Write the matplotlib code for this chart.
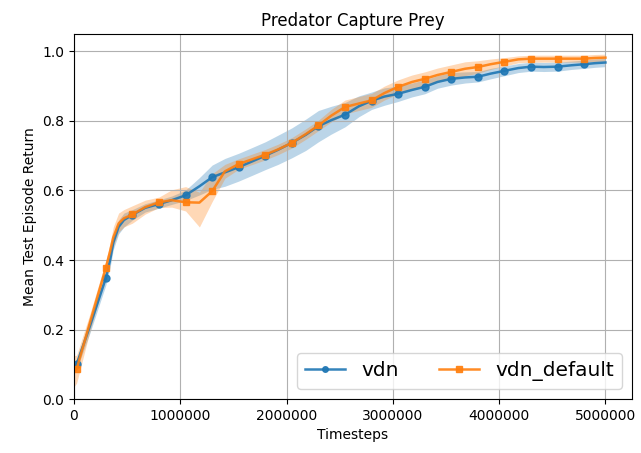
import numpy as np
import matplotlib
matplotlib.use('Agg')
import matplotlib.pyplot as plt

steps = [0.0, 0.025, 0.15, 0.30, 0.34, 0.37, 0.42, 0.47, 0.55, 0.67, 0.80, 0.92, 1.05, 1.18,
         1.30, 1.42, 1.55, 1.68, 1.80, 1.92, 2.05, 2.18, 2.30, 2.42, 2.55, 2.68,
         2.80, 2.92, 3.05, 3.18, 3.30, 3.42, 3.55, 3.68, 3.80, 3.92, 4.05, 4.18,
         4.30, 4.42, 4.55, 4.68, 4.80, 4.90, 5.00]

vdn_mean = [0.09, 0.10, 0.21, 0.348, 0.40, 0.45, 0.495, 0.515, 0.530, 0.550, 0.561, 0.572, 0.586, 0.612,
            0.638, 0.652, 0.667, 0.684, 0.700, 0.717, 0.737, 0.760, 0.785, 0.802, 0.818, 0.842,
            0.858, 0.870, 0.878, 0.889, 0.898, 0.912, 0.921, 0.925, 0.927, 0.936, 0.944, 0.952,
            0.956, 0.955, 0.956, 0.960, 0.963, 0.966, 0.968]
vdn_std = [0.015, 0.015, 0.02, 0.02, 0.02, 0.02, 0.02, 0.02, 0.015, 0.012, 0.012, 0.012, 0.015, 0.025,
           0.035, 0.04, 0.04, 0.04, 0.04, 0.042, 0.043, 0.045, 0.045, 0.04, 0.035, 0.03,
           0.025, 0.025, 0.022, 0.02, 0.02, 0.018, 0.018, 0.016, 0.015, 0.015, 0.014, 0.013,
           0.013, 0.013, 0.013, 0.012, 0.012, 0.012, 0.012]

dflt_mean = [0.08, 0.086, 0.22, 0.378, 0.425, 0.465, 0.505, 0.52, 0.531, 0.552, 0.566, 0.572, 0.566, 0.565,
             0.598, 0.655, 0.676, 0.690, 0.703, 0.718, 0.737, 0.762, 0.787, 0.815, 0.840, 0.850,
             0.859, 0.880, 0.898, 0.912, 0.921, 0.932, 0.941, 0.950, 0.955, 0.963, 0.970, 0.977,
             0.979, 0.979, 0.979, 0.979, 0.979, 0.981, 0.982]
dflt_lo = [0.045, 0.04, 0.025, 0.02, 0.02, 0.025, 0.025, 0.025, 0.025, 0.02, 0.015, 0.02, 0.025, 0.07,
           0.03, 0.02, 0.015, 0.015, 0.015, 0.015, 0.015, 0.015, 0.015, 0.018, 0.02, 0.02,
           0.02, 0.02, 0.02, 0.02, 0.02, 0.02, 0.02, 0.02, 0.018, 0.015, 0.012, 0.01,
           0.01, 0.01, 0.01, 0.01, 0.01, 0.01, 0.01]
dflt_hi = [0.045, 0.04, 0.025, 0.02, 0.025, 0.03, 0.03, 0.025, 0.025, 0.02, 0.015, 0.03, 0.045, 0.03,
           0.05, 0.02, 0.015, 0.015, 0.015, 0.015, 0.015, 0.015, 0.015, 0.018, 0.02, 0.02,
           0.02, 0.02, 0.02, 0.02, 0.02, 0.02, 0.02, 0.02, 0.018, 0.015, 0.012, 0.01,
           0.01, 0.01, 0.01, 0.01, 0.01, 0.01, 0.01]

# indices that carry a marker (every 250k steps)
marks = [1, 3, 8, 10, 12, 14, 16, 18, 20, 22, 24, 26, 28, 30, 32, 34, 36, 38, 40, 42]

t = np.array(steps) * 1e6
vm, vs = np.array(vdn_mean), np.array(vdn_std)
dm = np.array(dflt_mean)

fig = plt.figure(figsize=(6.41, 4.53), dpi=100)
ax = fig.add_axes([0.1154, 0.119, 0.8706, 0.806])

ax.fill_between(t, vm - vs, vm + vs, color='tab:blue', alpha=0.3, linewidth=0)
ax.fill_between(t, dm - np.array(dflt_lo), dm + np.array(dflt_hi), color='tab:orange', alpha=0.3, linewidth=0)
ax.plot(t, vm, color='tab:blue', marker='o', markersize=5, markevery=marks, linewidth=1.8,
        alpha=0.9, label='vdn')
ax.plot(t, dm, color='tab:orange', marker='s', markersize=5, markevery=marks, linewidth=1.8,
        alpha=0.9, label='vdn_default')

ax.set_xlim(0, 5.25e6)
ax.set_ylim(0, 1.05)
ax.set_xticks([0, 1e6, 2e6, 3e6, 4e6, 5e6])
ax.set_xticklabels(['0', '1000000', '2000000', '3000000', '4000000', '5000000'])
ax.set_yticks([0.0, 0.2, 0.4, 0.6, 0.8, 1.0])
ax.grid(True)
ax.set_xlabel('Timesteps')
ax.set_ylabel('Mean Test Episode Return')
ax.set_title('Predator Capture Prey', fontsize=12)
ax.legend(loc='lower right', ncol=2, fontsize=14.5, markerscale=0.8)

fig.savefig('out.png', dpi=100)
